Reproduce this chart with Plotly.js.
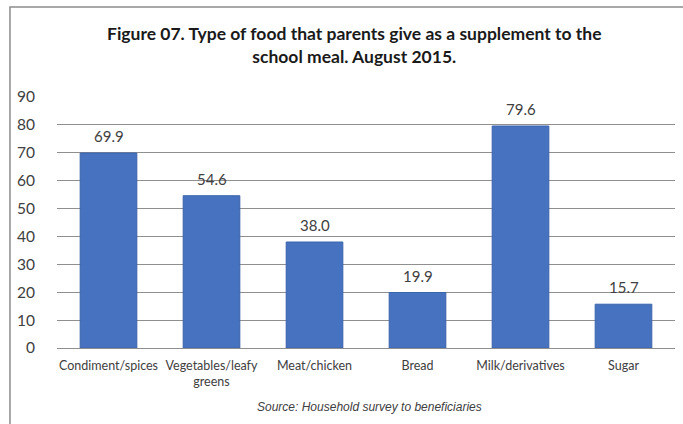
<!DOCTYPE html>
<html>
<head>
<meta charset="utf-8">
<script src="https://cdn.plot.ly/plotly-3.0.1.min.js"></script>
<style>html,body{margin:0;padding:0;background:#fff;}#chart{width:683px;height:424px;}</style>
</head>
<body>
<div id="chart"></div>
<script>
const categories = ["Condiment/spices", "Vegetables/leafy<br>greens", "Meat/chicken", "Bread", "Milk/derivatives", "Sugar"];
const values = [69.9, 54.6, 38.0, 19.9, 79.6, 15.7];
const valueLabels = ["69.9", "54.6", "38.0", "19.9", "79.6", "15.7"];
const yTicks = [0, 10, 20, 30, 40, 50, 60, 70, 80, 90];

const FONT = "Lato, 'Open Sans', sans-serif";
const TXT = "#404040";

const trace = {
  type: "bar",
  x: categories,
  y: values,
  marker: {color: "#4672C0", line: {color: "#3B63AA", width: 1}},
  hoverinfo: "none"
};

const valueAnnotations = categories.map((c, i) => ({
  x: c, y: values[i], xref: "x", yref: "y",
  text: valueLabels[i], showarrow: false,
  yanchor: "bottom", yshift: 6,
  font: {family: FONT, size: 15, color: TXT}
}));

const layout = {
  width: 683, height: 424,
  margin: {l: 57, r: 8, t: 97, b: 76},
  paper_bgcolor: "#ffffff",
  plot_bgcolor: "#ffffff",
  showlegend: false,
  bargap: 0.45,
  font: {family: FONT, color: TXT},
  xaxis: {
    type: "category",
    showgrid: false,
    showline: false,
    zeroline: false,
    ticks: "outside", ticklen: 6, tickcolor: "rgba(0,0,0,0)",
    tickfont: {family: FONT, size: 12.5, color: TXT},
    fixedrange: true
  },
  yaxis: {
    range: [0, 90],
    tickvals: yTicks,
    ticktext: yTicks.map(String),
    showgrid: true, gridcolor: "#8f8f8f", gridwidth: 1,
    zeroline: true, zerolinecolor: "#8f8f8f", zerolinewidth: 1,
    showline: false,
    ticks: "outside", ticklen: 18, tickcolor: "rgba(0,0,0,0)",
    tickfont: {family: FONT, size: 15.5, color: TXT},
    fixedrange: true
  },
  annotations: valueAnnotations.concat([
    {
      xref: "paper", yref: "paper", x: 0.4806, y: 1.207,
      text: "<b>Figure 07. Type of food that parents give as a supplement to the<br>school meal. August 2015.</b>",
      showarrow: false, xanchor: "center", yanchor: "middle",
      font: {family: FONT, size: 17.5, color: "#1a1a1a"}
    },
    {
      xref: "paper", yref: "paper", x: 0.505, y: -0.235,
      text: "<i>Source: Household survey to beneficiaries</i>",
      showarrow: false, xanchor: "center", yanchor: "middle",
      font: {family: "'Liberation Sans Narrow', 'Liberation Sans', Arial, sans-serif", size: 12, color: TXT}
    }
  ]),
  shapes: [
    {
      type: "rect", xref: "paper", yref: "paper",
      x0: -0.0761, x1: 1.03, y0: -0.35, y1: 1.3586,
      line: {color: "#8c8c8c", width: 1.5}, fillcolor: "rgba(0,0,0,0)", layer: "below"
    }
  ]
};

Plotly.newPlot("chart", [trace], layout, {displayModeBar: false, staticPlot: true});
</script>
</body>
</html>
